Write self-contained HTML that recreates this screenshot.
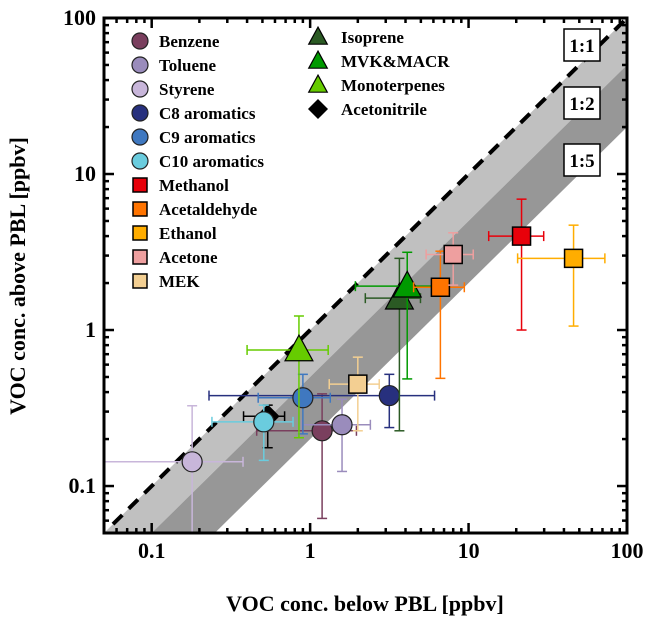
<!DOCTYPE html>
<html><head><meta charset="utf-8">
<style>
html,body{margin:0;padding:0;background:#fff;overflow:hidden;width:654px;height:623px;}
svg{display:block;font-family:"Liberation Serif",serif;font-weight:bold;}
</style></head>
<body>
<svg id="chart" width="654" height="623" viewBox="0 0 654 623" xmlns="http://www.w3.org/2000/svg">
<defs><clipPath id="clip"><rect x="104" y="18" width="523" height="515"/></clipPath></defs>
<g id="bands" clip-path="url(#clip)"></g>
<g id="marks" clip-path="url(#clip)"></g>
<g id="axes"></g>
<g id="legend"></g>
</svg>
<script>
const species = ["Benzene","Toluene","Styrene","C8 aromatics","C9 aromatics","C10 aromatics","Methanol","Acetaldehyde","Ethanol","Acetone","MEK","Isoprene","MVK&MACR","Monoterpenes","Acetonitrile"];
const shapes = ["circle","circle","circle","circle","circle","circle","square","square","square","square","square","triangle","triangle","triangle","diamond"];
const colors = ["#7a3f5e","#9a8cbc","#c8b6da","#27307e","#3f78c0","#6accde","#e8000a","#ff7400","#ffad00","#ee9f9f","#f3cf92","#2b5a24","#009a00","#66cc00","#000000"];
const xVal = [1.19,1.59,0.18,3.16,0.9,0.51,21.6,6.64,46,8.0,2.0,3.66,4.1,0.85,0.54];
const yVal = [0.226,0.247,0.143,0.38,0.368,0.258,4.0,1.88,2.88,3.05,0.45,1.6,1.91,0.745,0.28];
const xLo = [0.46,0.89,0.04,0.23,0.47,0.24,13.4,4.5,20.4,5.4,1.32,2.23,1.93,0.4,0.38];
const xHi = [1.96,2.4,0.377,6.1,1.34,0.78,29.8,9.4,72.5,10.7,2.73,4.97,6.2,1.3,0.69];
const yLo = [0.062,0.124,0.03,0.237,0.216,0.146,1.0,0.49,1.06,1.94,0.226,0.226,0.486,0.204,0.176];
const yHi = [0.39,0.36,0.327,0.52,0.52,0.33,6.9,3.2,4.7,4.2,0.67,2.88,3.15,1.23,0.33];
const tickVals = [0.1,1,10,100];
const tickLabels = ["0.1","1","10","100"];
const ratios = [1,2,5];
const ratioLabels = ["1:1","1:2","1:5"];

const X0=104,X1=627,Y0=533,Y1=18;
const lmin=Math.log10(0.05),lmax=2;
function sx(v){return X0+(Math.log10(v)-lmin)/(lmax-lmin)*(X1-X0);}
function sy(v){return Y0-(Math.log10(v)-lmin)/(lmax-lmin)*(Y0-Y1);}
const NS="http://www.w3.org/2000/svg";
function mk(tag,attrs,parent){const e=document.createElementNS(NS,tag);for(const k in attrs)e.setAttribute(k,attrs[k]);parent.appendChild(e);return e;}

const bands=document.getElementById('bands');
function bandPts(r1,r2){
  const a=0.01,b=1000;
  return [[sx(a),sy(a/r1)],[sx(b),sy(b/r1)],[sx(b),sy(b/r2)],[sx(a),sy(a/r2)]].map(p=>p.join(',')).join(' ');
}
let lb=mk('polygon',{points:bandPts(ratios[0],ratios[1]),fill:'#c0c0c0'},bands);


let db=mk('polygon',{points:bandPts(ratios[1],ratios[2]),fill:'#979797'},bands);


let dl=mk('line',{x1:sx(0.057),y1:sy(0.057),x2:sx(100),y2:sy(100),stroke:'#000','stroke-width':4,'stroke-dasharray':'13,9'},bands);



const marks=document.getElementById('marks');
function marker(shape,cx,cy,size,col,parent){
  let e;
  if(shape==='circle') e=mk('circle',{cx:cx,cy:cy,r:size/2+1,fill:col,stroke:'#222','stroke-width':1.2},parent);
  else if(shape==='square') e=mk('rect',{x:cx-size/2,y:cy-size/2,width:size,height:size,fill:col,stroke:'#000','stroke-width':1.5},parent);
  else if(shape==='triangle'){const h=size*1.0;e=mk('polygon',{points:`${cx},${cy-h*0.62} ${cx+size*0.58},${cy+h*0.45} ${cx-size*0.58},${cy+h*0.45}`,fill:col,stroke:'#000','stroke-width':1.2},parent);}
  else e=mk('polygon',{points:`${cx},${cy-size*0.62} ${cx+size*0.62},${cy} ${cx},${cy+size*0.62} ${cx-size*0.62},${cy}`,fill:col,stroke:'#000','stroke-width':1},parent);
  return e;
}
const order=[2,0,1,3,4,14,5,10,11,12,13,7,9,6,8];
order.forEach(i=>{
  const g=mk('g',{},marks);
  
  
  const cx=sx(xVal[i]),cy=sy(yVal[i]),c=colors[i],cap=5;
  mk('line',{x1:sx(xLo[i]),y1:cy,x2:sx(xHi[i]),y2:cy,stroke:c,'stroke-width':1.5},g);
  mk('line',{x1:sx(xLo[i]),y1:cy-cap,x2:sx(xLo[i]),y2:cy+cap,stroke:c,'stroke-width':1.5},g);
  mk('line',{x1:sx(xHi[i]),y1:cy-cap,x2:sx(xHi[i]),y2:cy+cap,stroke:c,'stroke-width':1.5},g);
  mk('line',{x1:cx,y1:sy(yLo[i]),x2:cx,y2:sy(yHi[i]),stroke:c,'stroke-width':1.5},g);
  mk('line',{x1:cx-cap,y1:sy(yLo[i]),x2:cx+cap,y2:sy(yLo[i]),stroke:c,'stroke-width':1.5},g);
  mk('line',{x1:cx-cap,y1:sy(yHi[i]),x2:cx+cap,y2:sy(yHi[i]),stroke:c,'stroke-width':1.5},g);
  marker(shapes[i],cx,cy,shapes[i]==='square'?18:shapes[i]==='triangle'?24:18,c,g);
});

const axes=document.getElementById('axes');
const frame=mk('rect',{x:X0,y:Y1,width:X1-X0,height:Y0-Y1,fill:'none',stroke:'#000','stroke-width':3},axes);


for(let d=-2;d<=1;d++){
  for(let m=1;m<=9;m++){
    const v=m*Math.pow(10,d);
    if(v<0.05||v>100) continue;
    const L=m===1?10:5;
    const px=sx(v),py=sy(v);
    mk('line',{x1:px,y1:Y0,x2:px,y2:Y0-L,stroke:'#000','stroke-width':2.5},axes);
    mk('line',{x1:px,y1:Y1,x2:px,y2:Y1+L,stroke:'#000','stroke-width':2.5},axes);
    mk('line',{x1:X0,y1:py,x2:X0+L,y2:py,stroke:'#000','stroke-width':2.5},axes);
    mk('line',{x1:X1,y1:py,x2:X1-L,y2:py,stroke:'#000','stroke-width':2.5},axes);
  }
}
tickVals.forEach((v,i)=>{
  const t=mk('text',{x:sx(v),y:Y0+25,'text-anchor':'middle','font-size':22},axes);
  t.textContent=tickLabels[i];
  
  
  const u=mk('text',{x:X0-8,y:sy(v)+7,'text-anchor':'end','font-size':22},axes);
  u.textContent=tickLabels[i];
  
  
});
const xt=mk('text',{x:365,y:611,'text-anchor':'middle','font-size':22},axes);
xt.textContent='VOC conc. below PBL [ppbv]';


const yt=mk('text',{x:0,y:0,'text-anchor':'middle','font-size':22,transform:'translate(25,276) rotate(-90)'},axes);
yt.textContent='VOC conc. above PBL [ppbv]';


const boxY=[29,87,144];
ratioLabels.forEach((r,i)=>{
  const g=mk('g',{},axes);
  
  
  mk('rect',{x:564,y:boxY[i],width:36,height:32,fill:'#fff',stroke:'#000','stroke-width':1.5},g);
  const t=mk('text',{x:582,y:boxY[i]+23,'text-anchor':'middle','font-size':19},g);
  t.textContent=r;
});

const leg=document.getElementById('legend');
species.forEach((s,i)=>{
  const col2=i>=11;
  const row=col2?i-11:i;
  const mx=col2?318:140, my=col2?37+row*24:41+row*24;
  const g=mk('g',{},leg);
  
  
  marker(shapes[i],mx,my,shapes[i]==='triangle'?16:shapes[i]==='diamond'?15:14,colors[i],g);
  const t=mk('text',{x:col2?341:159,y:my+6,'font-size':17},g);
  t.textContent=s;
});
</script>
</body></html>
